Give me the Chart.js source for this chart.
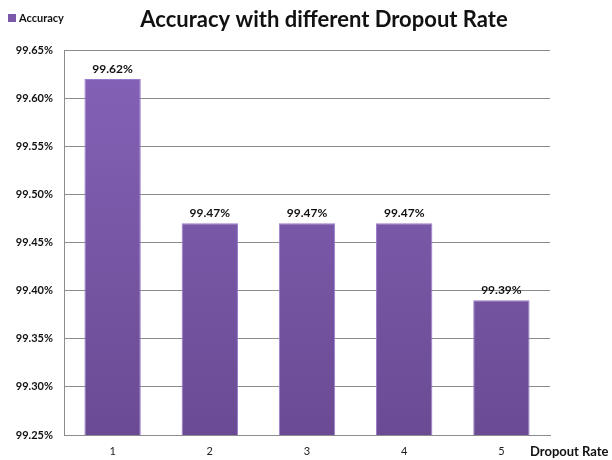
<!DOCTYPE html>
<html>
<head>
<meta charset="utf-8">
<script src="https://cdn.jsdelivr.net/npm/chart.js@4"></script>
<style>
  html, body { margin: 0; padding: 0; background: #fff; }
  #wrap { width: 612px; height: 460px; }
</style>
</head>
<body>
<div id="wrap"><canvas id="acc" width="612" height="460"></canvas></div>
<script>
const dropoutRates = ['1', '2', '3', '4', '5'];
const accuracy = [99.62, 99.47, 99.47, 99.47, 99.39];
const seriesName = 'Accuracy';
const chartTitle = 'Accuracy with different Dropout Rate';
const xAxisName = 'Dropout Rate';

const fontFam = 'Lato, "Open Sans", sans-serif';

function barFill(context) {
    const chart = context.chart;
    const area = chart.chartArea;
    if (!area) return '#7a58aa';
    const g = chart.ctx.createLinearGradient(0, area.top, 0, area.bottom);
    g.addColorStop(0, '#8562b8');
    g.addColorStop(1, '#6a4b93');
    return g;
}

// title, legend, value labels and the x-axis name
const extras = {
    id: 'extras',
    afterDatasetsDraw(chart) {
        const c = chart.ctx;
        const area = chart.chartArea;
        c.save();
        c.fillStyle = '#111';
        c.textAlign = 'center';
        c.textBaseline = 'middle';
        c.font = 'bold 22px ' + fontFam;
        c.fillText(chartTitle, 324, 20);

        // legend
        c.fillStyle = '#7a58aa';
        c.fillRect(8, 14, 8, 8);
        c.fillStyle = '#111';
        c.textAlign = 'left';
        c.font = 'bold 11px ' + fontFam;
        c.fillText(seriesName, 19, 18);

        // value labels
        c.textAlign = 'center';
        c.textBaseline = 'bottom';
        c.font = 'bold 12px ' + fontFam;
        chart.getDatasetMeta(0).data.forEach((bar, i) => {
            c.fillText(accuracy[i].toFixed(2) + '%', bar.x, bar.y - 4);
        });

        // x axis name
        c.textAlign = 'left';
        c.textBaseline = 'middle';
        c.font = 'bold 13px ' + fontFam;
        c.fillText(xAxisName, area.right - 20, 452);
        c.restore();
    }
};

new Chart(document.getElementById('acc'), {
    type: 'bar',
    data: {
        labels: dropoutRates,
        datasets: [{
            label: seriesName,
            data: accuracy,
            backgroundColor: barFill,
            borderColor: '#9a7ccb',
            borderWidth: 1,
            barPercentage: 0.58,
            categoryPercentage: 1
        }]
    },
    options: {
        responsive: false,
        animation: false,
        layout: {
            padding: { top: 50, right: 62, bottom: 0, left: 6 }
        },
        plugins: {
            legend: { display: false },
            tooltip: { enabled: false }
        },
        scales: {
            x: {
                grid: { display: false, drawTicks: false },
                border: { color: '#8c8c8c' },
                ticks: {
                    color: '#222',
                    padding: 10,
                    font: { family: fontFam, size: 11 }
                },
                afterFit: (scale) => { scale.height = 25; }
            },
            y: {
                min: 99.25,
                max: 99.65,
                grid: { color: '#8c8c8c', drawTicks: false },
                border: { color: '#8c8c8c' },
                ticks: {
                    stepSize: 0.05,
                    padding: 11,
                    color: '#111',
                    font: { family: fontFam, size: 11, weight: 'bold' },
                    callback: (v) => v.toFixed(2) + '%'
                },
                afterFit: (scale) => { scale.width = 58; }
            }
        }
    },
    plugins: [extras]
});
</script>
</body>
</html>
